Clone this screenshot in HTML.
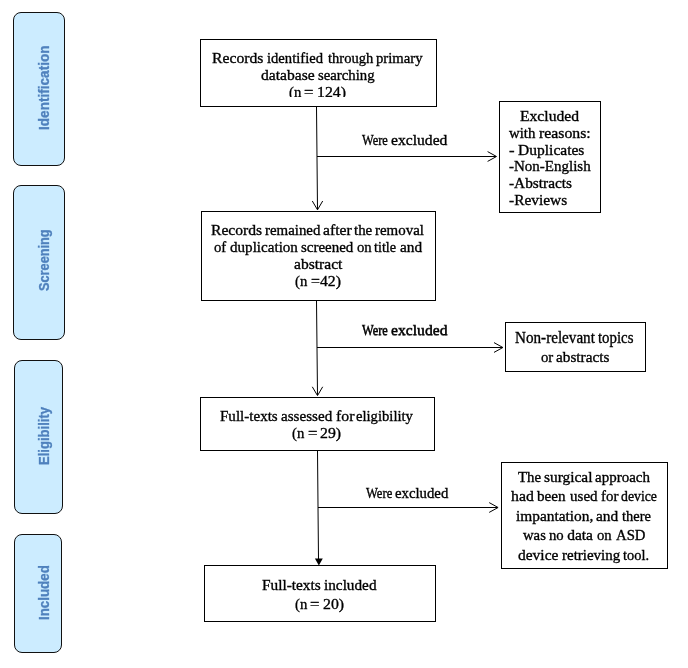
<!DOCTYPE html>
<html lang="en">
<head>
<meta charset="utf-8">
<title>PRISMA flow diagram</title>
<style>
html,body{margin:0;padding:0;background:#fff;}
body{width:688px;height:668px;position:relative;overflow:hidden;}
.fig{position:absolute;left:0;top:0;width:688px;height:668px;background:#fff;overflow:hidden;will-change:transform;}
.box{position:absolute;box-sizing:border-box;border:1px solid #000;background:#fff;overflow:hidden;}
.stage{position:absolute;box-sizing:border-box;border:1px solid #111;background:#ccecff;border-radius:8px;}
.ln{position:absolute;left:0;width:100%;height:20px;margin:0;line-height:20px;white-space:pre;font-family:"Liberation Serif", serif;font-size:15.5px;color:#000;-webkit-text-stroke:0.35px #000;}
.ln span{position:absolute;top:0;transform-origin:0 50%;}
.vt{position:absolute;white-space:pre;font-family:"Liberation Sans", sans-serif;font-weight:bold;color:#4f81bd;line-height:20px;height:20px;transform-origin:0 0;margin:0;-webkit-text-stroke:0.3px #4f81bd;}
svg{position:absolute;left:0;top:0;}
</style>
</head>
<body>
<div class="fig">
<div class="stage" style="left:13px;top:12px;width:52px;height:154px"><div class="vt" style="left:21.00px;top:116.96px;font-size:13.8px;transform:rotate(-90deg) scaleX(0.9854)">Identification</div></div>
<div class="stage" style="left:13px;top:185px;width:52px;height:155px"><div class="vt" style="left:21.00px;top:104.95px;font-size:13.8px;transform:rotate(-90deg) scaleX(0.9239)">Screening</div></div>
<div class="stage" style="left:14px;top:360px;width:49px;height:154px"><div class="vt" style="left:20.00px;top:103.93px;font-size:13.8px;transform:rotate(-90deg) scaleX(0.9458)">Eligibility</div></div>
<div class="stage" style="left:14px;top:534px;width:48px;height:119px"><div class="vt" style="left:20.00px;top:84.85px;font-size:13.8px;transform:rotate(-90deg) scaleX(0.9658)">Included</div></div>
<svg width="688" height="668" viewBox="0 0 688 668" fill="none" stroke="#000" stroke-width="1">
<line x1="316.5" y1="107" x2="317.5" y2="209.5"/>
<polyline points="312.30,201.00 317.50,209.80 322.70,201.00"/>
<line x1="317" y1="156.5" x2="496" y2="156.5"/>
<polyline points="487.60,161.40 496.50,156.50 487.60,151.60"/>
<line x1="316.5" y1="301" x2="317.5" y2="395"/>
<polyline points="312.30,386.80 317.50,395.60 322.70,386.80"/>
<line x1="317" y1="347.5" x2="502.5" y2="347.5"/>
<polyline points="494.00,352.40 502.90,347.50 494.00,342.60"/>
<line x1="317.5" y1="451" x2="318.5" y2="560"/>
<polygon points="314.9,558.6 322.8,558.6 318.85,565.6" fill="#000" stroke="none"/>
<line x1="318" y1="507.5" x2="497.5" y2="507.5"/>
<polyline points="489.20,512.40 498.10,507.50 489.20,502.60"/>
</svg>
<div class="box" style="left:200px;top:39px;width:237px;height:68px">
<div style="position:absolute;left:0;top:0;width:100%;height:57px;overflow:hidden">
<p class="ln" style="top:8px"><span style="left:11.49px;transform:scaleX(1.013)">Records</span> <span style="left:66.45px;transform:scaleX(0.943)">identified</span> <span style="left:126.58px;transform:scaleX(0.938)">through</span> <span style="left:174.76px;transform:scaleX(0.950)">primary</span></p>
<p class="ln" style="top:25px"><span style="left:59.97px;transform:scaleX(1.007)">database</span> <span style="left:116.70px;transform:scaleX(0.952)">searching</span></p>
<p class="ln" style="top:42px"><span style="left:87.86px;transform:scaleX(0.950)">(n</span> <span style="left:103.32px;transform:scaleX(1.080)">=</span> <span style="left:115.85px;transform:scaleX(1.020)">124)</span></p>
</div>
</div>
<div class="box" style="left:201px;top:211px;width:235px;height:90px">
<p class="ln" style="top:8px"><span style="left:8.70px;transform:scaleX(1.007)">Records</span> <span style="left:62.86px;transform:scaleX(0.961)">remained</span> <span style="left:120.80px;transform:scaleX(1.009)">after</span> <span style="left:152.38px;transform:scaleX(0.964)">the</span> <span style="left:173.06px;transform:scaleX(0.963)">removal</span></p>
<p class="ln" style="top:25px"><span style="left:11.84px;transform:scaleX(0.950)">of</span> <span style="left:28.29px;transform:scaleX(0.974)">duplication</span> <span style="left:99.10px;transform:scaleX(0.965)">screened</span> <span style="left:154.51px;transform:scaleX(0.950)">on</span> <span style="left:172.19px;transform:scaleX(0.916)">title</span> <span style="left:197.91px;transform:scaleX(0.990)">and</span></p>
<p class="ln" style="top:42px"><span style="left:91.90px;transform:scaleX(1.004)">abstract</span></p>
<p class="ln" style="top:59px"><span style="left:93.46px;transform:scaleX(0.950)">(n</span> <span style="left:108.56px;transform:scaleX(1.020)">=42)</span></p>
</div>
<div class="box" style="left:200px;top:397px;width:235px;height:54px">
<p class="ln" style="top:8px"><span style="left:18.91px;transform:scaleX(0.971)">Full-texts</span> <span style="left:79.91px;transform:scaleX(0.977)">assessed</span> <span style="left:134.99px;transform:scaleX(1.019)">for</span> <span style="left:155.11px;transform:scaleX(0.944)">eligibility</span></p>
<p class="ln" style="top:25px"><span style="left:91.31px;transform:scaleX(0.950)">(n</span> <span style="left:106.98px;transform:scaleX(1.080)">=</span> <span style="left:118.98px;transform:scaleX(1.020)">29)</span></p>
</div>
<div class="box" style="left:204px;top:565px;width:232px;height:57px">
<p class="ln" style="top:9px"><span style="left:57.41px;transform:scaleX(0.988)">Full-texts</span> <span style="left:118.63px;transform:scaleX(0.984)">included</span></p>
<p class="ln" style="top:28px"><span style="left:89.61px;transform:scaleX(0.950)">(n</span> <span style="left:104.97px;transform:scaleX(1.080)">=</span> <span style="left:117.88px;transform:scaleX(1.020)">20)</span></p>
</div>
<div class="box" style="left:499px;top:101px;width:102px;height:112px">
<p class="ln" style="top:4px"><span style="left:19.60px;transform:scaleX(1.009)">Excluded</span></p>
<p class="ln" style="top:21px"><span style="left:9.00px;transform:scaleX(0.957)">with</span> <span style="left:38.55px;transform:scaleX(1.019)">reasons:</span></p>
<p class="ln" style="top:38px"><span style="left:9.01px;transform:scaleX(1.080)">-</span> <span style="left:17.70px;transform:scaleX(1.002)">Duplicates</span></p>
<p class="ln" style="top:54px"><span style="left:9.00px;transform:scaleX(0.968)">-Non-English</span></p>
<p class="ln" style="top:71px"><span style="left:8.98px;transform:scaleX(0.990)">-Abstracts</span></p>
<p class="ln" style="top:88px"><span style="left:8.98px;transform:scaleX(0.993)">-Reviews</span></p>
</div>
<div class="box" style="left:505px;top:322px;width:141px;height:50px">
<p class="ln" style="top:5px;font-size:16.5px"><span style="left:8.84px;transform:scaleX(0.918)">Non-relevant</span> <span style="left:92.29px;transform:scaleX(0.898)">topics</span></p>
<p class="ln" style="top:24px"><span style="left:34.50px;transform:scaleX(0.950)">or</span> <span style="left:50.41px;transform:scaleX(0.984)">abstracts</span></p>
</div>
<div class="box" style="left:501px;top:462px;width:167px;height:107px">
<p class="ln" style="top:4px"><span style="left:16.06px;transform:scaleX(0.955)">The</span> <span style="left:41.58px;transform:scaleX(0.994)">surgical</span> <span style="left:93.22px;transform:scaleX(0.967)">approach</span></p>
<p class="ln" style="top:23px"><span style="left:8.97px;transform:scaleX(1.018)">had</span> <span style="left:35.30px;transform:scaleX(0.976)">been</span> <span style="left:67.76px;transform:scaleX(0.971)">used</span> <span style="left:99.12px;transform:scaleX(0.961)">for</span> <span style="left:118.64px;transform:scaleX(0.889)">device</span></p>
<p class="ln" style="top:43px"><span style="left:14.13px;transform:scaleX(0.992)">impantation,</span> <span style="left:94.30px;transform:scaleX(0.994)">and</span> <span style="left:119.68px;transform:scaleX(0.932)">there</span></p>
<p class="ln" style="top:62px"><span style="left:20.60px;transform:scaleX(0.949)">was</span> <span style="left:46.86px;transform:scaleX(0.950)">no</span> <span style="left:65.17px;transform:scaleX(1.000)">data</span> <span style="left:95.26px;transform:scaleX(0.950)">on</span> <span style="left:114.28px;transform:scaleX(0.952)">ASD</span></p>
<p class="ln" style="top:82px"><span style="left:15.68px;transform:scaleX(0.999)">device</span> <span style="left:59.66px;transform:scaleX(0.967)">retrieving</span> <span style="left:121.28px;transform:scaleX(0.930)">tool.</span></p>
</div>
<p class="ln" style="top:0"><span style="left:361.90px;top:130px;font-size:14.5px;transform:scaleX(0.854)">Were</span> <span style="left:390.95px;top:130px;font-size:15px;transform:scaleX(1.042)">excluded</span></p>
<p class="ln" style="top:0;text-shadow:0 1px 0 rgba(0,0,0,.55)"><span style="left:361.90px;top:320px;font-size:14.5px;transform:scaleX(0.854)">Were</span> <span style="left:390.95px;top:320px;font-size:15px;transform:scaleX(1.044)">excluded</span></p>
<p class="ln" style="top:0"><span style="left:366.00px;top:483px;font-size:14.5px;transform:scaleX(0.867)">Were</span> <span style="left:394.89px;top:483px;font-size:15px;transform:scaleX(0.984)">excluded</span></p>
</div>
</body>
</html>
